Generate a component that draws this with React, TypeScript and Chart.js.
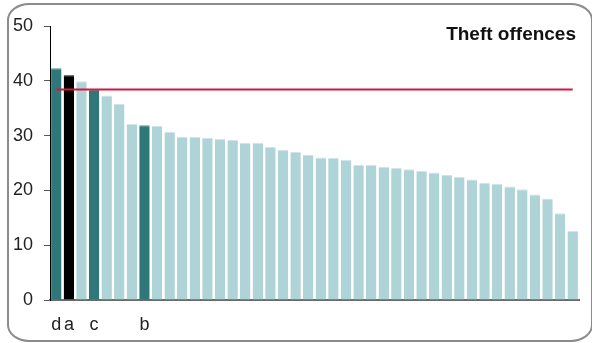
import React, { useEffect, useRef } from "react";
import { Chart, registerables } from "chart.js";

Chart.register(...registerables);

const FONT = "'Liberation Sans', Arial, Helvetica, sans-serif";

const title = "Theft offences";
const categories = ["d", "a", "", "c", "", "", "", "b", "", "", "", "", "", "", "", "", "", "", "", "", "", "", "", "", "", "", "", "", "", "", "", "", "", "", "", "", "", "", "", "", "", ""];
const values = [42.3, 41.0, 39.9, 38.4, 37.3, 35.8, 32.1, 31.9, 31.75, 30.65, 29.8, 29.75, 29.6, 29.4, 29.2, 28.7, 28.7, 27.9, 27.4, 27.0, 26.5, 26.0, 25.9, 25.6, 24.65, 24.65, 24.3, 24.1, 23.85, 23.55, 23.25, 22.8, 22.45, 22.0, 21.4, 21.2, 20.7, 20.2, 19.25, 18.5, 15.85, 12.6];
const averageValue = 38.4;
const yTicks = [0, 10, 20, 30, 40, 50];

const LIGHT = "#afd4d7";
const DARK = "#2f7778";
const BLACK = "#000000";

export default function App() {
  const ref = useRef<HTMLCanvasElement | null>(null);

  useEffect(() => {
    if (!ref.current) return;
    const colors = categories.map((c) => (c === "a" ? BLACK : c ? DARK : LIGHT));
    const borders = categories.map((c) => (c === "a" ? BLACK : c ? "#5a9596" : "#cfe6e8"));
    const titlePlugin = {
      id: "cornerTitle",
      afterDraw(chart: any) {
        const ctx = chart.ctx;
        ctx.save();
        ctx.font = `bold 19px ${FONT}`;
        ctx.fillStyle = "#111111";
        ctx.textAlign = "right";
        ctx.textBaseline = "alphabetic";
        ctx.fillText(title, 576, 39.5);
        ctx.restore();
      },
    };
    const chart = new Chart(ref.current, {
      type: "bar",
      data: {
        labels: categories,
        datasets: [
          {
            type: "line",
            data: categories.map(() => averageValue),
            borderColor: "#d5173f",
            borderWidth: 2,
            pointRadius: 0,
            fill: false,
            order: 0,
          } as any,
          {
            type: "bar",
            data: values,
            backgroundColor: colors,
            borderColor: borders,
            borderWidth: { top: 1, left: 0, right: 0, bottom: 0 },
            borderSkipped: "bottom",
            barPercentage: 0.83,
            categoryPercentage: 1,
            order: 1,
          } as any,
        ],
      },
      options: {
        animation: false,
        responsive: false,
        devicePixelRatio: 1,
        layout: { padding: { left: 0, right: 13, top: 26, bottom: 0 } },
        plugins: {
          legend: { display: false },
          tooltip: { enabled: false },
          title: { display: false },
        },
        scales: {
          x: {
            type: "category",
            grid: { display: true, drawOnChartArea: false, drawTicks: false },
            border: { display: true, color: "#6b6b6b", width: 2 },
            ticks: {
              autoSkip: false,
              maxRotation: 0,
              minRotation: 0,
              padding: 14,
              color: "#222222",
              font: { family: FONT, size: 18 },
            },
            afterFit(scale: any) {
              scale.height = 43;
            },
          },
          y: {
            min: 0,
            max: 50,
            afterBuildTicks(scale: any) {
              scale.ticks = yTicks.map((v) => ({ value: v }));
            },
            grid: {
              display: true,
              drawOnChartArea: false,
              drawTicks: true,
              tickLength: 6,
              color: "#555555",
            },
            border: { display: true, color: "#000000", width: 1 },
            ticks: {
              padding: 11,
              color: "#222222",
              font: { family: FONT, size: 18 },
            },
            afterFit(scale: any) {
              scale.width = 50;
            },
          },
        },
      },
      plugins: [titlePlugin],
    });
    return () => chart.destroy();
  }, []);

  return (
    <div style={{ position: "fixed", left: 0, top: 0, width: 592, height: 343, background: "#fff", overflow: "hidden" }}>
      <div
        style={{
          position: "absolute",
          left: 7,
          top: 3,
          width: 586,
          height: 339,
          boxSizing: "border-box",
          border: "2px solid #8c8c8c",
          borderRadius: "22px / 17px",
        }}
      />
      <canvas ref={ref} width={592} height={343} style={{ position: "absolute", left: 0, top: 0, width: 592, height: 343 }} />
    </div>
  );
}
